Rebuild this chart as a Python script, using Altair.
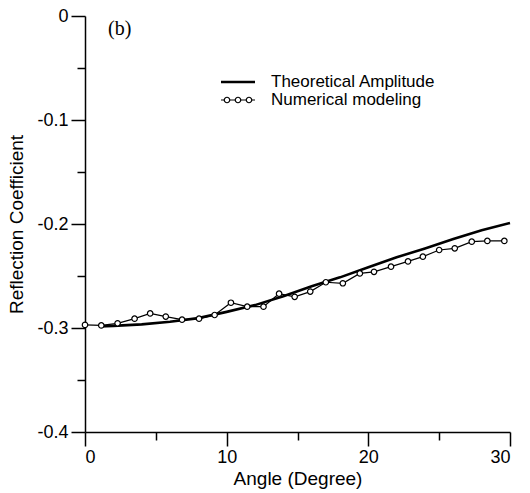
import altair as alt
import pandas as pd

# ---- data ----
theory_angle = [1, 2, 4, 6, 8, 10, 12, 14, 16, 18, 20, 22, 24, 26, 28, 30]
theory_value = [-0.2985, -0.298, -0.2965, -0.294, -0.2905, -0.2845, -0.278, -0.2695,
                -0.2598, -0.2513, -0.2415, -0.232, -0.2235, -0.2145, -0.206, -0.199]

num_angle = [0, 1.15, 2.3, 3.5, 4.6, 5.7, 6.85, 8.05, 9.15, 10.3, 11.45, 12.6, 13.7,
             14.8, 15.9, 17.0, 18.2, 19.4, 20.4, 21.6, 22.8, 23.85, 25.0, 26.1, 27.3,
             28.4, 29.6]
num_value = [-0.297, -0.2975, -0.2955, -0.291, -0.286, -0.289, -0.292, -0.291, -0.2875,
             -0.2757, -0.2795, -0.2795, -0.267, -0.270, -0.265, -0.256, -0.257, -0.2475,
             -0.246, -0.241, -0.236, -0.2314, -0.225, -0.2234, -0.217, -0.2163, -0.2163]

series_names = ["Theoretical Amplitude", "Numerical modeling"]
x_major = [0, 10, 20, 30]
x_minor = [5, 15, 25]
y_major = [-0.4, -0.3, -0.2, -0.1, 0]
y_minor = [-0.35, -0.25, -0.15, -0.05]
panel_label = ["(b)"]

theory = pd.DataFrame({"angle": theory_angle, "value": theory_value, "series": series_names[0]})
num = pd.DataFrame({"angle": num_angle, "value": num_value, "series": series_names[1]})

FONT = "Liberation Sans"
x_scale = alt.Scale(domain=[0, 30], nice=False, zero=False)
y_scale = alt.Scale(domain=[-0.4, 0], nice=False, zero=False)

# main axes: major ticks with labels
theory_line = alt.Chart(theory).mark_line(color="black", strokeWidth=2.6).encode(
    x=alt.X("angle:Q", scale=x_scale, axis=alt.Axis(
        title="Angle (Degree)", values=x_major, tickSize=14, labelPadding=2,
        titlePadding=3, grid=False, orient="bottom")),
    y=alt.Y("value:Q", scale=y_scale, axis=alt.Axis(
        title="Reflection Coefficient", values=y_major, tickSize=14, labelPadding=3,
        titlePadding=10, grid=False, orient="left",
        labelExpr="datum.value == 0 ? '0' : '-' + format(abs(datum.value), '.1f')")),
)
# second axes: minor ticks only
num_line = alt.Chart(num).mark_line(color="black", strokeWidth=1.2).encode(
    x=alt.X("angle:Q", scale=x_scale, axis=alt.Axis(
        title=None, values=x_minor, tickSize=8, labels=False, domain=False,
        grid=False, orient="bottom")),
    y=alt.Y("value:Q", scale=y_scale, axis=alt.Axis(
        title=None, values=y_minor, tickSize=8, labels=False, domain=False,
        grid=False, orient="left")),
)
num_points = alt.Chart(num).mark_point(
    shape="circle", filled=True, fill="white", stroke="black", strokeWidth=1.2, size=30, opacity=1
).encode(x=alt.X("angle:Q", axis=None), y=alt.Y("value:Q", axis=None))

# ---- legend (drawn by hand, top right of the plot) ----
leg = pd.DataFrame({"series": series_names})
ROW_Y = {series_names[0]: 66, series_names[1]: 84}
leg_layers = []
for s in series_names:
    base = alt.Chart(leg).transform_filter(alt.datum.series == s)
    leg_layers.append(base.mark_text(
        font=FONT, fontSize=17, align="left", baseline="middle", color="black"
    ).encode(text="series:N", x=alt.value(186), y=alt.value(ROW_Y[s])))
    leg_layers.append(base.mark_rule(
        color="black", strokeWidth=2.6 if s == series_names[0] else 1.2
    ).encode(x=alt.value(136), x2=alt.value(170), y=alt.value(ROW_Y[s])))
    if s == series_names[1]:
        for px in (142, 153, 164):
            leg_layers.append(base.mark_point(
                shape="circle", filled=True, fill="white", stroke="black", strokeWidth=1.2,
                size=30, opacity=1
            ).encode(x=alt.value(px), y=alt.value(ROW_Y[s])))

label = alt.Chart(pd.DataFrame({"label": panel_label})).mark_text(
    font="Liberation Serif", fontSize=20, align="left", baseline="middle", color="black"
).encode(x=alt.value(23), y=alt.value(13), text="label:N")

chart = alt.layer(theory_line, num_line, num_points, *leg_layers, label).resolve_axis(
    x="independent", y="independent"
).properties(
    width=425, height=416,
    padding={"left": 7, "top": 7, "right": 10, "bottom": 5},
).configure_view(stroke=None).configure_axis(
    domainColor="black", domainWidth=1.5, tickColor="black", tickWidth=1.5,
    labelFont=FONT, labelFontSize=18, labelColor="black",
    titleFont=FONT, titleFontSize=19, titleFontWeight="normal", titleColor="black",
)

chart.save("out.html", embed_options={"renderer": "svg", "actions": False})
